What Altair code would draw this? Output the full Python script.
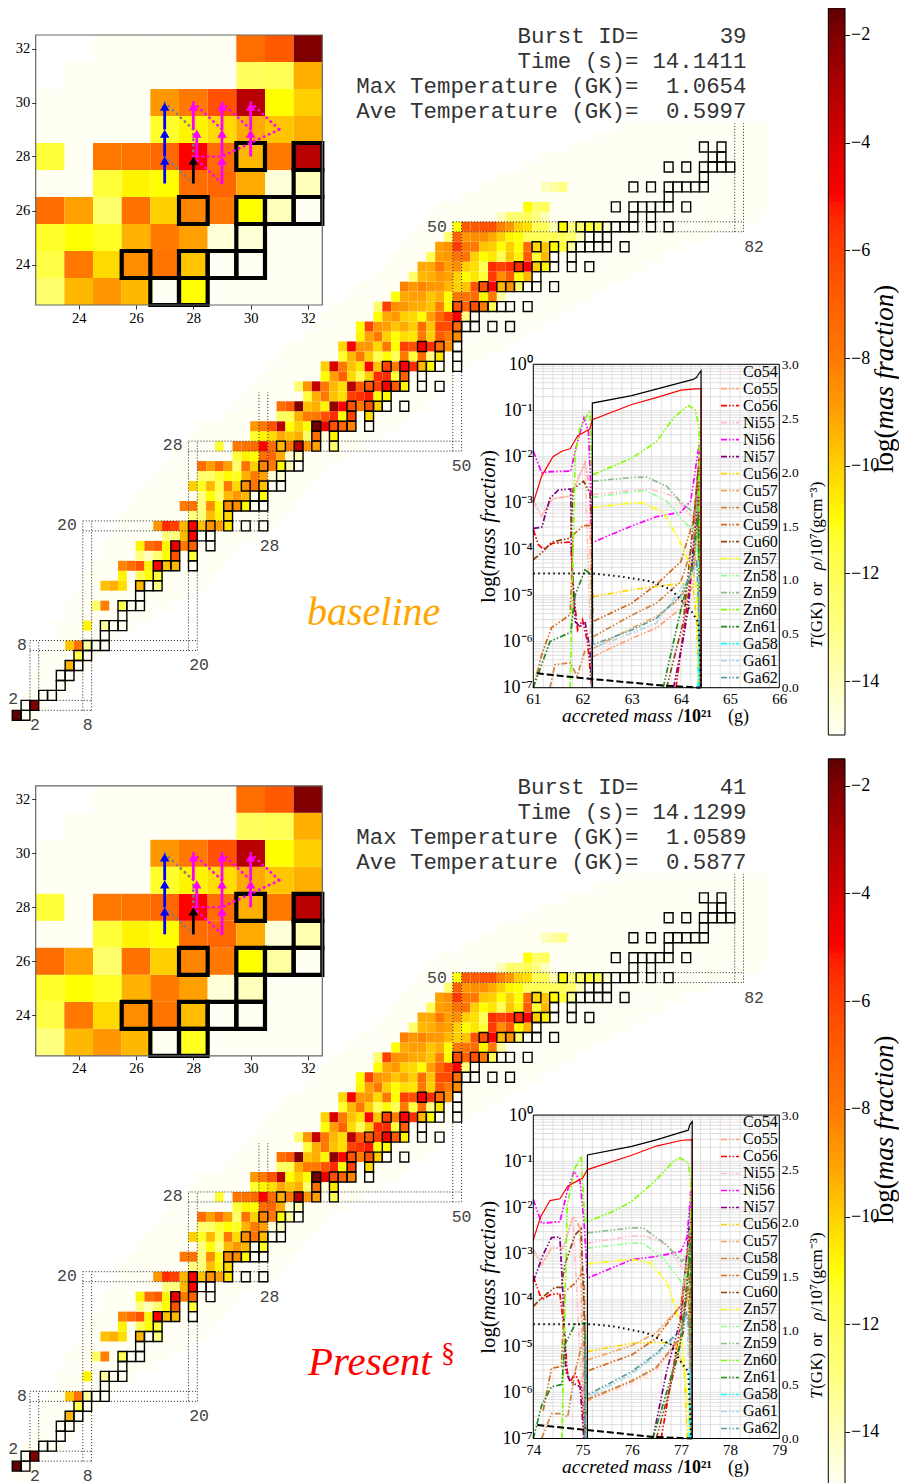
import altair as alt
import pandas as pd

W, H = 891, 1475
DY = 750.8
SERIF = "Liberation Serif"
MONO = "Liberation Mono"

# ---------- colour map (log mass fraction) ----------
CMAP_V = [-15, -13, -11, -10, -9, -8, -7, -6, -5, -4, -3, -2, -1.5]
CMAP_C = ["#fffff4", "#ffff80", "#ffff00", "#ffd000", "#ffa000", "#ff7800", "#ff6000",
          "#ff4000", "#ff0000", "#d80000", "#b00000", "#800000", "#5c0000"]

# ---------- abundance per proton number: Z -> (first N, values) ----------
ROWS = {
 1: (0, [-1.6, -15]), 2: (1, [-15, -2]), 3: (3, [-15, -15]), 4: (5, [-15]), 5: (5, [-15, -15]),
 6: (6, [-9.5, -15]), 7: (7, [-11.8, -15]), 8: (6, [-9.8, -7.8, -13.5, -15, -15]), 9: (10, [-15]),
 10: (8, [-10.8, None, -13.5, -15, -15]), 11: (12, [-15]),
 12: (9, [-12.5, -8.2, None, -12, -15, -15]), 13: (14, [-15]),
 14: (10, [-9.7, -9.3, -10.3, None, -9.5, -15, -13]),
 15: (12, [-10.8, None, -12, -11, -11.5]),
 16: (12, [-8.3, -7.5, -6.5, -10.8, -5, -9.7, -9.5, None, -15]),
 17: (14, [-13, -14, -12.5, -11, -6.5, None, -11.5]),
 18: (14, [-10.8, -7.5, -6.8, -10.8, -4.5, -8, -7, None, -15]),
 19: (17, [-13, -13, -9.5, -5, -15, -15]),
 20: (16, [-8.8, -5.5, -6, -9.5, -5, -9.7, -8.7, -9, -10.5, None, -15, None, -15]),
 21: (20, [-13, -13, -9.6, -10.8, -10.2]),
 22: (19, [-8, -7.8, -13, -8.5, -11, -8.5, -8.5, -11, -15, -15]),
 23: (21, [-13, -11, -12.5, -9.5, -8.8, -9.5, -15, -11]),
 24: (20, [-10, -11.2, -9.5, -11.7, -8, -10.2, -8.5, -7.8, -9.8, -15, -15]),
 25: (21, [-12.5, -12.5, -11.3, -11, -11.2, -9.4, -8, -9, -14.5, -14.5]),
 26: (21, [-7.5, -9, -7.5, -9, -12.5, -7.7, -10, -8.3, -8, -11, -14, -15]),
 27: (25, [-11.5, -10.8, -11, -7.5, -7.2, -9.2, -14.5, -14]),
 28: (23, [-11.5, None, -8, -7.8, -7.3, -5, -7.5, -9.5, -8, -3.2, -8.8, -9, None, -12.5]),
 29: (27, [-11.3, -10.8, -10.2, -9.2, -9.8, -9.3, -12.5, -7.5, -14.5, -10.8]),
 30: (27, [-8.8, -8, -6.5, -3.2, -11, -10, -11, -1.8, -4.5, -6.5, -7.2, -8.3, None, -15]),
 31: (30, [-12.2, -12, -9.3, -8, -8, -6.5, -5.5, -11, -6, None, -10.3]),
 32: (30, [-7.6, -6.8, -2, -9.7, -9.3, -10.8, -2.3, -5, -6.5, -8, -6.5, -10, -15, None, -15]),
 33: (33, [-11.5, -9.3, -8, -9.7, -10.3, -6, -5.6, -5.2, -11, -11]),
 34: (32, [-12.5, -8.8, -3.5, -8, -9.5, -10.3, -3, -6.8, -6.7, -6, -4.8, -6.8, -10.8, None, -15, None, -15]),
 35: (35, [-11, -9, -7, -10.2, -12, -10, -5.5, -5.5, -11.5, -7, None, -15]),
 36: (35, [-10, -4, -8, -9.7, -10.5, -5, -9.8, -6, -8, -5, -5.5, -9.5, -11, -15, None, -15]),
 37: (37, [-11.3, -9.5, -8, -10, -12, -11, -12, -8, -11.5, -7.5, -13, -10.5, None, -15]),
 38: (37, [-10.2, -4.8, -8.8, -8.8, -10.2, -8, -11, -6, -6.5, -5, -5.5, -7.5, -8.5, -15]),
 39: (39, [-10.8, -9, -8, -10, -11, -10.3, -10.5, -8, -10, -6.8, -8, -8.5]),
 40: (39, [-11, -6, -8.8, -9, -9.8, -9.2, -10, -7.5, -9.8, -6.3, -6.3, -7.5, -15, -15, None, -15, None, -15]),
 41: (41, [-11, -9.2, -8.8, -10, -10.2, -11, -9, -7.3, -6, -5, -13, -15]),
 42: (41, [-12.5, -6, -8.6, -8.8, -9.2, -9.3, -9.8, -8.2, -11, -6.5, -7, -6.5, -8, -12, -15, -15, None, -15]),
 43: (43, [-11, -9.2, -9, -9, -9.8, -9.3, -11, -8, -7.8, -7.5, -10.8, -8, -13.5]),
 44: (44, [-8.2, -8.8, -8.3, -8.8, -8.8, -9.5, -10, -9.8, -6.5, -6.5, -5, -9.5, -8.7, -12.5, -15, -15, None, -15]),
 45: (45, [-12.5, -9.5, -9.3, -8.8, -9, -10, -11, -10.5, -11.5, -5.8, -8.5, -6.8, -11, -9.5, -15]),
 46: (46, [-9.2, -9.2, -8, -9, -8.5, -10, -10.3, -12, -5.5, -6, -5.5, -5.5, -4.8, -10, -10.8, -15, None, -15, None, -15]),
 47: (47, [-12, -9, -8.8, -7.8, -7.8, -10, -11, -10.5, -12, -9.8, -10.8, -6.8, -11.5, -9.5, -15, None, -15]),
 48: (48, [-9, -8.6, -5.8, -8, -8, -9.8, -10, -11, -10, -11, -7.5, -10.2, -9.8, -11, -11.5, -13.5, -15, -15, -15, -15, None, -15]),
 49: (49, [-12.5, -7, -8.8, -8.5, -8.5, -9.2, -10, -10.8, -11, -12, -12, -12, -12, -12, -12.5, -14, -15, -15, -15]),
 50: (50, [-11, -6.8, -6.8, -6.5, -6.5, -8.2, -8.8, -10, -10.3, -12, -12, -14, -11, -13, -12.5, -11.5, -12, -14.5, -15, -15, -15, None, -15, None, -15]),
 51: (55, [-14, -12.5, -12.5, -12, -13, -14, None, None, None, None, None, None, None, None, None, -15, None, -15]),
 52: (58, [-11, -12.5, -12, None, None, None, None, None, None, None, -15, None, -15, -15, -15, -15, -15, None, -15]),
 53: (74, [-15]),
 54: (60, [-14, -13.5, -13, None, None, None, None, None, None, None, -15, None, -15, None, -15, -15, -15, -15, -15]),
 55: (78, [-15]), 56: (74, [-15, None, -15, None, -15, -15, -15, -15]),
 57: (79, [-15, -15]), 58: (78, [-15, None, -15]),
}
OVERRIDE_2 = {(30, 26): -11, (31, 26): -13.5, (32, 27): -13.8, (30, 25): -14, (23, 23): -13,
              (28, 24): -9.6, (28, 23): -11.2, (30, 28): -9.3, (29, 29): -10.3, (36, 28): -12,
              (36, 29): -10.5}

# pale band: first and last N for each Z = 0..60
PALE_L = [0, 0, 0, 1, 2, 2, 3, 3, 4, 5, 5, 6, 6, 7, 8, 8, 9, 10, 10, 11, 12, 12, 13, 14, 15, 16, 17, 18, 19, 20, 21,
          24, 25, 26, 27, 28, 29, 30, 31, 33, 34, 35, 36, 38, 39, 41, 42, 43, 44, 45, 46, 47, 48, 51, 53, 55, 58, 60, 63, 66, 69]
PALE_R = [1, 2, 3, 5, 6, 7, 8, 9, 10, 11, 13, 15, 17, 19, 21, 22, 23, 24, 25, 27, 29, 30, 31, 32, 33, 34, 35, 37, 39, 41, 43,
          44, 46, 47, 48, 49, 51, 53, 55, 57, 59, 61, 63, 65, 67, 69, 71, 73, 75, 78, 82, 84, 85, 85, 85, 85, 85, 85, 85, 85, 85]

# stable nuclei: Z -> list of N
STABLE = {1: [0, 1], 2: [1, 2], 3: [3, 4], 4: [5], 5: [5, 6], 6: [6, 7], 7: [7, 8], 8: [8, 9, 10], 9: [10], 10: [10, 11, 12],
 11: [12], 12: [12, 13, 14], 13: [14], 14: [14, 15, 16], 15: [16], 16: [16, 17, 18, 20], 17: [18, 20], 18: [18, 20, 22],
 19: [20, 21, 22], 20: [20, 22, 24, 26, 28], 21: [24], 22: [24, 25, 26, 27, 28], 23: [27, 28], 24: [26, 28, 29, 30], 25: [30],
 26: [28, 30, 31, 32], 27: [32], 28: [30, 32, 34, 36], 29: [34, 36], 30: [34, 36, 37, 38, 40], 31: [38, 40],
 32: [38, 40, 41, 42, 44], 33: [42], 34: [40, 42, 43, 44, 46, 48], 35: [44, 46], 36: [42, 44, 46, 47, 48, 50], 37: [48, 50],
 38: [46, 48, 50], 39: [50], 40: [50, 51, 52, 54, 56], 41: [52], 42: [50, 52, 53, 54, 55, 56, 58],
 44: [53, 55, 56, 57, 58, 59, 61], 45: [59], 46: [57, 59, 60, 61, 63, 65], 47: [61, 63], 48: [59, 61, 63, 64, 65, 66, 67, 69],
 49: [65, 66, 67], 50: [62, 64, 65, 66, 67, 68, 69, 70, 72, 74], 51: [70, 72], 52: [68, 70, 71, 72, 73, 74, 76], 53: [74],
 54: [70, 72, 74, 75, 76, 77, 78], 55: [78], 56: [74, 76, 78, 79, 80, 81], 57: [79, 80], 58: [78, 80]}

# magic-number guides (N0, N1, Z0, Z1)
GUIDES = [(2.5, 8.5, 1.5, 1.5), (2.5, 8.5, 2.5, 2.5), (1.5, 20.5, 7.5, 7.5), (1.5, 20.5, 8.5, 8.5),
          (7.5, 28.5, 19.5, 19.5), (7.5, 28.5, 20.5, 20.5), (19.5, 50.5, 27.5, 27.5), (19.5, 50.5, 28.5, 28.5),
          (49.5, 82.5, 49.5, 49.5), (49.5, 82.5, 50.5, 50.5),
          (1.5, 1.5, 2.5, 8.5), (2.5, 2.5, 2.5, 8.5), (7.5, 7.5, 1.5, 20.5), (8.5, 8.5, 1.5, 20.5),
          (19.5, 19.5, 7.5, 28.5), (20.5, 20.5, 7.5, 28.5), (27.5, 27.5, 19.5, 33.4), (28.5, 28.5, 19.5, 33.4),
          (49.5, 49.5, 27.5, 50.5), (50.5, 50.5, 27.5, 50.5), (81.5, 81.5, 49.5, 60.4), (82.5, 82.5, 49.5, 60.4)]
MAGIC_TXT = ["2", "2", "8", "8", "20", "20", "28", "28", "50", "50", "82"]
MAGIC_N = [-0.4, 2.08, 0.6, 8.06, 5.7, 20.7, 17.7, 28.7, 47.7, 50.5, 83.7]
MAGIC_Z = [2.67, 0, 8.05, 0, 20.05, 6.05, 28.1, 18, 50, 26, 48]

# inset flow arrows: N, Z start, Z end, colour
ARROW_N = [27, 27, 27, 28, 28, 28.12, 29, 29, 29, 30, 30]
ARROW_Z0 = [27, 28, 29, 27, 29, 28, 27, 28, 29, 28, 29]
ARROW_Z1 = [27.85, 28.85, 29.85, 27.85, 29.85, 28.85, 27.85, 28.85, 29.85, 28.85, 29.85]
ARROW_C = ["blue", "blue", "blue", "black", "magenta", "magenta", "magenta", "magenta", "magenta", "magenta", "magenta"]
FLOW_GRAY = [[(27, 30), (28, 29), (28, 28)], [(27, 28), (28, 27)]]
FLOW_MAG = [[(28, 30), (29, 29)], [(29, 30), (30, 29)], [(30, 30), (31, 29)], [(31, 29), (30, 28.5), (29, 28), (28, 28)], [(28, 28), (29, 27)]]

# ---------- profile panels ----------
SERIES = ["Co54", "Co55", "Co56", "Ni55", "Ni56", "Ni57", "Cu56", "Cu57", "Cu58", "Cu59", "Cu60",
          "Zn57", "Zn58", "Zn59", "Zn60", "Zn61", "Ga58", "Ga61", "Ga62"]
SERIES_C = ["#ffe4e1", "#ffa07a", "#ff0000", "#ffc0cb", "#ff00ff", "#800080", "#ffd700", "#f4a460", "#cd853f", "#d2691e",
            "#8b4513", "#ffff00", "#98fb98", "#8fbc8f", "#7fff00", "#228b22", "#00ffff", "#add8e6", "#5f9ea0"]

RED_1 = [(61, -3), (61.17, -2.42), (61.4, -2), (61.6, -1.87), (61.75, -1.83), (61.9, -1.55), (62.05, -1.46), (62.15, -1.4),
         (62.2, -1.2), (63, -.87), (63.5, -.72), (64, -.56), (64.3, -.53), (64.41, -.53), (64.41, -7)]
TEMP_1 = [(62.2, 0), (62.2, 2.64), (63, 2.71), (63.5, 2.77), (64, 2.83), (64.25, 2.86), (64.32, 2.88), (64.36, 2.91), (64.41, 2.94), (64.41, 0)]
AVE_1 = [(61, 1.06), (62.2, 1.06), (62.8, 1.03), (63.4, .985), (63.8, .91), (64.2, .72), (64.35, .61), (64.39, .3), (64.41, 0)]
RHO_1 = [(61.07, .133), (62.2, .08), (63.64, .02), (64.4, 0)]
CURVES_1 = {
 "Co54": [(62.21, -6.25), (63, -5.85), (63.5, -5.64), (64, -5.17), (64.25, -4.7), (64.35, -3.9), (64.41, -7)],
 "Co55": [(61, -2.96), (61.17, -3.29), (61.37, -2.92), (61.76, -2.85), (62.05, -2.13), (62.15, -2.68), (62.19, -7), None,
          (62.21, -6.33), (63, -5.93), (63.5, -5.71), (64, -5.28), (64.25, -4.8), (64.35, -3.25), (64.41, -7)],
 "Co56": [(61, -3.58), (61.1, -3.9), (61.2, -4), (61.4, -3.87), (61.76, -3.85), (61.81, -4.85), (61.9, -5.75), (62, -5.53), (62.1, -6), (62.19, -7), None,
          (63.9, -7), (64.15, -5), (64.3, -3.5), (64.37, -2), (64.41, -7)],
 "Ni55": [(61, -2.96), (61.17, -3.27), (61.4, -2.9), (61.76, -2.85), (62.05, -2.15), (62.19, -7), None,
          (62.21, -2.82), (63, -2.73), (63.37, -2.7), (63.85, -2.85), (64.25, -3.33), (64.35, -3.47), (64.41, -7)],
 "Ni56": [(61, -1.88), (61.17, -2.35), (61.3, -2.33), (61.76, -2.31), (61.85, -1.88), (62.03, -1.16), (62.12, -1.45), (62.17, -2.67), (62.19, -3.87),
          (62.5, -3.72), (63, -3.5), (63.5, -3.3), (64, -3.2), (64.2, -2.96), (64.29, -2.31), (64.37, -1.73), (64.4, -7)],
 "Ni57": [(61, -3.55), (61.17, -3.53), (61.34, -2.9), (61.51, -2.72), (61.76, -2.7), (61.78, -4.1), (61.85, -5.57), (61.95, -5.68), (62.05, -5.57), (62.15, -6.15), (62.19, -7), None,
          (63.85, -7), (64.05, -5.93), (64.15, -5.28), (64.3, -3.4), (64.35, -2.67), (64.4, -7)],
 "Cu56": [(62.21, -5.03), (63, -4.88), (63.5, -4.81), (64, -4.74), (64.25, -4.81), (64.32, -5.57), (64.36, -7)],
 "Cu57": [(62.21, -6.15), (63, -5.71), (63.5, -5.46), (64, -5.06), (64.25, -4.48), (64.35, -3.4), (64.41, -7)],
 "Cu58": [(61.34, -7), (61.44, -6.5), (61.75, -6.46), (61.89, -6.75), (62.05, -6.2), None,
          (62.21, -5.9), (63, -5.43), (63.5, -5.17), (64, -4.7), (64.25, -3.9), (64.35, -2.55), (64.41, -7)],
 "Cu59": [(61, -7), (61.17, -6.29), (61.37, -5.7), (61.75, -5.42), (61.81, -3.69), (62.02, -3.49), (62.19, -3.49), (62.21, -5.57),
          (63, -5.17), (63.5, -4.77), (64, -4.27), (64.25, -3.4), (64.37, -2.1), (64.4, -7)],
 "Cu60": [(61, -4.23), (61.2, -4.05), (61.37, -3.85), (61.76, -3.76), (61.81, -2.7), (62.02, -2.53), (62.15, -2.78), (62.19, -3.5), (62.19, -7), None,
          (63.71, -7), (64.05, -5.57), (64.29, -3.04), (64.35, -2.24), (64.4, -7)],
 "Zn57": [(62.21, -3.1), (63, -3), (63.23, -3), (63.64, -3.2), (63.98, -3.83), (64.18, -4.34), (64.32, -4.84), (64.39, -7)],
 "Zn58": [(62.21, -2.88), (63, -2.76), (63.3, -2.74), (63.71, -2.96), (64.12, -3.47), (64.32, -3.58), (64.41, -7)],
 "Zn59": [(62.21, -2.53), (63, -2.45), (63.3, -2.44), (63.71, -2.64), (64.05, -3.04), (64.32, -3.25), (64.37, -2.31), (64.41, -7)],
 "Zn60": [(61.75, -7), (61.85, -1.95), (61.95, -1.37), (62.15, -1), (62.19, -2.31), (62.21, -2.39), (62.63, -2.2), (63, -2.03), (63.5, -1.68),
          (63.85, -1.16), (64.15, -.89), (64.29, -.98), (64.37, -1.37), (64.39, -7)],
 "Zn61": [(61, -7), (61.17, -6.5), (61.34, -6), (61.76, -5.8), (61.85, -5), (62.05, -4.45), (62.19, -4.56), (62.19, -7), None,
          (63.64, -7), (63.98, -5.4), (64.25, -4.27), (64.35, -3.25), (64.4, -7)],
 "Ga58": [(64.35, -7), (64.37, -5.5), (64.39, -7)],
 "Ga61": [(62.2, -7), (62.2, -5.5), (62.21, -6.15), (63.5, -5.6), (64.25, -4.5), (64.35, -4.3), (64.41, -7)],
 "Ga62": [(62.2, -7), (62.2, -5), (62.21, -6.07), (63, -5.75), (63.5, -5.5), (64, -5), (64.25, -4.42), (64.32, -4.23), (64.37, -5.57), (64.4, -7)],
}
RED_2 = [(74, -2.7), (74.15, -2.2), (74.34, -1.85), (74.54, -1.81), (74.7, -1.54), (74.85, -1.45), (75, -1.37), (75.1, -1.18),
         (76, -.87), (76.5, -.67), (77, -.55), (77.23, -.53), (77.23, -7)]
TEMP_2 = [(75.1, 0), (75.1, 2.63), (76, 2.71), (76.5, 2.77), (77, 2.84), (77.15, 2.86), (77.18, 2.91), (77.23, 2.94), (77.23, 0)]
AVE_2 = [(74, 1.06), (75.2, 1.06), (75.63, 1.04), (76.3, .98), (76.8, .87), (77, .71), (77.15, .62), (77.21, 0)]
RHO_2 = [(74.08, .125), (75.08, .08), (76.43, .015), (77.23, 0)]
CURVES_2 = {
 "Co54": [(75.1, -6.2), (76, -5.83), (76.5, -5.55), (77, -4.9), (77.15, -4.2), (77.2, -3.3), (77.22, -7)],
 "Co55": [(74, -2.91), (74.17, -3.24), (74.37, -2.88), (74.61, -2.88), (74.81, -2.19), (74.95, -2.44), (75.03, -7), None,
          (75.1, -6.17), (76, -5.77), (76.5, -5.48), (77, -4.83), (77.15, -3.75), (77.22, -7)],
 "Co56": [(74, -3.49), (74.17, -4), (74.34, -3.89), (74.54, -3.86), (74.64, -4.76), (74.69, -5.55), (74.75, -5.77), (74.85, -5.59), (74.98, -5.9), (75.05, -7), None,
          (76.6, -7), (77, -4.5), (77.18, -2.4), (77.22, -7)],
 "Ni55": [(74, -2.9), (74.17, -3.22), (74.37, -2.86), (74.61, -2.86), (74.81, -2.2), (75.03, -7), None,
          (75.1, -2.77), (76, -2.62), (76.3, -2.62), (76.71, -2.81), (77.03, -3.31), (77.17, -3), (77.22, -7)],
 "Ni56": [(74, -1.83), (74.17, -2.34), (74.54, -2.31), (74.69, -1.65), (74.83, -1.21), (74.95, -1.43), (75.03, -2.3), (75.1, -3.53), (76, -3.13), (76.5, -3.06),
          (77, -2.95), (77.12, -2.66), (77.17, -2.08), (77.2, -1.65), (77.22, -7)],
 "Ni57": [(74, -3.6), (74.2, -3.02), (74.37, -2.65), (74.54, -2.64), (74.6, -3.82), (74.66, -5.55), (74.75, -5.77), (74.95, -5.88), (75.03, -7), None,
          (76.43, -7), (76.71, -5.55), (76.98, -4.47), (77.12, -3.02), (77.2, -2.01), (77.22, -7)],
 "Cu56": [(75.1, -5.12), (76, -4.94), (76.5, -4.92), (76.9, -4.94), (77.07, -5.55), (77.13, -7)],
 "Cu57": [(75.1, -5.3), (76, -4.99), (76.5, -4.71), (77, -4.13), (77.15, -3.2), (77.22, -7)],
 "Cu58": [(74.17, -7), (74.37, -6.46), (74.57, -6.46), (74.7, -6.53), (74.85, -5.55), (74.98, -5), None,
          (75.1, -6.15), (76, -5.75), (76.5, -5.46), (77, -4.8), (77.15, -3.7), (77.22, -7)],
 "Cu59": [(74.2, -6.4), (74.37, -5.48), (74.57, -5.44), (74.64, -3.82), (74.85, -3.64), (74.98, -3.44), (75.03, -3.46), (75.07, -5.55),
          (76, -5.19), (76.5, -4.83), (77, -4.11), (77.17, -2.8), (77.22, -7)],
 "Cu60": [(74, -4.14), (74.2, -3.93), (74.44, -3.73), (74.57, -3.73), (74.64, -3.24), (74.85, -2.59), (74.97, -2.46), (75.03, -4.1), (75.05, -7), None,
          (76.5, -7), (76.78, -5.9), (77.05, -4.68), (77.17, -3.02), (77.22, -7)],
 "Zn57": [(75.1, -3.22), (76, -3.12), (76.37, -3.2), (76.71, -3.6), (76.98, -4.47), (77.15, -6.3), (77.18, -7)],
 "Zn58": [(75.1, -2.88), (76, -2.77), (76.23, -2.77), (76.64, -3.1), (77.05, -3.67), (77.18, -2.95), (77.22, -7)],
 "Zn59": [(75.1, -2.55), (76, -2.44), (76.23, -2.44), (76.71, -2.81), (77.02, -3.17), (77.15, -2.95), (77.2, -2), (77.22, -7)],
 "Zn60": [(74.58, -7), (74.69, -1.94), (74.85, -1.14), (74.97, -.89), (75.05, -2.3), (75.1, -2.31), (75.63, -2.08), (76, -1.87), (76.5, -1.4),
          (76.85, -1), (76.98, -.93), (77.15, -1.03), (77.2, -1.43), (77.22, -7)],
 "Zn61": [(74, -7), (74.17, -6.28), (74.37, -5.88), (74.58, -5.83), (74.64, -4.97), (74.85, -4.53), (75.05, -4.5), (75.07, -7), None,
          (76.43, -7), (76.71, -6), (76.98, -4.97), (77.15, -3.38), (77.2, -2.65), (77.22, -7)],
 "Ga58": [(77.17, -7), (77.19, -5.5), (77.21, -7)],
 "Ga61": [(75.07, -7), (75.07, -5.5), (75.1, -6.12), (76, -5.6), (76.5, -5.2), (77, -4.7), (77.12, -4.3), (77.22, -7)],
 "Ga62": [(75.05, -7), (75.05, -5), (75.1, -6.06), (76, -5.55), (76.5, -5.16), (77, -4.65), (77.12, -4.25), (77.2, -4.88), (77.22, -7)],
}
XDOM_1, XDOM_2 = [61, 66], [74, 79]
DECADES = [1e-7, 1e-6, 1e-5, 1e-4, 1e-3, 1e-2, 1e-1, 1]
MINOR = [2, 3, 4, 5, 6, 7, 8, 9]
TEMP_TICKS = [0, .5, 1, 1.5, 2, 2.5, 3]
CB_TICKS = [-14, -12, -10, -8, -6, -4, -2]
INSET_TICKS = [24, 26, 28, 30, 32]

INFO_L = ["Burst ID=", "Time (s)=", "Max Temperature (GK)=", "Ave Temperature (GK)="]
INFO_1 = ["39", "14.1411", "1.0654", "0.5997"]
INFO_2 = ["41", "14.1299", "1.0589", "0.5877"]

LOG_EXPR = ("datum.value>0.5?'10⁰':datum.value>0.05?'10⁻¹':datum.value>0.005?'10⁻²':datum.value>0.0005?'10⁻³':"
            "datum.value>0.00005?'10⁻⁴':datum.value>0.000005?'10⁻⁵':datum.value>0.0000005?'10⁻⁶':'10⁻⁷'")

ONE = pd.DataFrame({"a": [0]})


def X(field, dom, rng, axis=None, **kw):
    return alt.X(field, type="quantitative", scale=alt.Scale(domain=dom, range=rng, zero=False, nice=False, **kw), axis=axis)


def Y(field, dom, rng, axis=None, **kw):
    return alt.Y(field, type="quantitative", scale=alt.Scale(domain=dom, range=rng, zero=False, nice=False, **kw), axis=axis)


def label(s, x, y, size, font=SERIF, style="normal", color="black", angle=0, align="left", baseline="alphabetic", weight="normal"):
    df = pd.DataFrame({"t": [s]})
    return alt.Chart(df).mark_text(font=font, fontSize=size, fontStyle=style, color=color, angle=angle,
                                   align=align, baseline=baseline, fontWeight=weight).encode(
        x=alt.value(x - 8), y=alt.value(y - 8), text="t:N")


def make_cells(override):
    vals = {}
    for z, (n0, row) in ROWS.items():
        for i, v in enumerate(row):
            if v is not None:
                vals[(n0 + i, z)] = v
    vals.update(override)
    rows = []
    for z, (a, b) in enumerate(zip(PALE_L, PALE_R)):
        for n in range(a, b + 1):
            if (n, z) not in vals:
                rows.append((n, z, -15))
    rows += [(n, z, v) for (n, z), v in vals.items()]
    df = pd.DataFrame(rows, columns=["N", "Z", "v"])
    df["n0"], df["n1"] = df.N - .5, df.N + .5
    df["z0"], df["z1"] = df.Z - .5, df.Z + .5
    return df


def make_stable():
    rows = [(n, z) for z, ns in STABLE.items() for n in ns]
    df = pd.DataFrame(rows, columns=["N", "Z"])
    df["n0"], df["n1"] = df.N - .5, df.N + .5
    df["z0"], df["z1"] = df.Z - .5, df.Z + .5
    return df


CSCALE = alt.Scale(domain=CMAP_V, range=CMAP_C)


def heat(df, xs, ys):
    return alt.Chart(df).mark_rect(strokeWidth=0).encode(
        x=X("n0", *xs), x2="n1", y=Y("z0", *ys), y2="z1",
        color=alt.Color("v:Q", scale=CSCALE, legend=None))


def boxes(df, xs, ys, width):
    return alt.Chart(df).mark_rect(fill="white", fillOpacity=0, stroke="black", strokeWidth=width).encode(
        x=X("n0", *xs), x2="n1", y=Y("z0", *ys), y2="z1")


def curve_frame(curves):
    rows = []
    for name, pts in curves.items():
        seg = 0
        for p in pts:
            if p is None:
                seg += 1
                continue
            rows.append((name, f"{name}{seg}", len(rows), p[0], 10 ** p[1]))
    return pd.DataFrame(rows, columns=["series", "key", "i", "x", "y"])


def simple_line(pts, xs, ys, color, width, dash=None, axis=None, log=False):
    df = pd.DataFrame(pts, columns=["x", "y"])
    df["i"] = range(len(df))
    if log:
        df["y"] = 10 ** df["y"]
    kw = dict(color=color, strokeWidth=width)
    if dash:
        kw["strokeDash"] = dash
    return alt.Chart(df).mark_line(**kw).encode(
        x=X("x", *xs), y=alt.Y("y", type="quantitative", scale=ys, axis=axis), order="i:Q")


def panel(dy, override, info, curves, red, temp, ave, rho, xdom):
    L = []
    main_x = ([0, 100], [8.7, 889.7])
    main_y = ([0, 60], [717.3 + dy, 119.1 + dy])
    ins_x = ([22.5, 32.5], [27.7, 314.3])
    ins_y = ([22.5, 32.5], [297 + dy, 27 + dy])

    cells = make_cells(override)
    stable = make_stable()
    L.append(heat(cells, main_x, main_y))

    g = pd.DataFrame(GUIDES, columns=["a", "b", "c", "d"])
    L.append(alt.Chart(g).mark_rule(color="#222222", strokeWidth=1, strokeDash=[1, 2]).encode(
        x=X("a", *main_x), x2="b", y=Y("c", *main_y), y2="d"))
    L.append(boxes(stable, main_x, main_y, 1.4))
    mg = pd.DataFrame({"t": MAGIC_TXT, "n": MAGIC_N, "z": MAGIC_Z})
    L.append(alt.Chart(mg).mark_text(font=MONO, fontSize=16.5, color="#444444").encode(
        x=X("n", *main_x), y=Y("z", *main_y), text="t:N"))

    # inset
    sel = (cells.N >= 23) & (cells.N <= 32) & (cells.Z >= 23) & (cells.Z <= 32)
    L.append(heat(cells[sel], ins_x, ins_y))
    sel2 = (stable.N >= 23) & (stable.N <= 32) & (stable.Z >= 23) & (stable.Z <= 32)
    L.append(boxes(stable[sel2], ins_x, ins_y, 4.2))
    ax_i_x = alt.Axis(orient="bottom", offset=297 + dy - H, values=INSET_TICKS, grid=False, domain=False, tickColor="#333333", tickSize=4,
                      labelFont=SERIF, labelFontSize=14.5, labelColor="black", labelPadding=2, title=None, labelFlush=False, labelOverlap=False, zindex=2)
    ax_i_y = alt.Axis(orient="left", offset=-27.7, values=INSET_TICKS, grid=False, domain=False, tickColor="#333333", tickSize=4,
                      labelFont=SERIF, labelFontSize=14.5, labelColor="black", labelPadding=2, title=None, labelFlush=False, labelOverlap=False, zindex=2)
    frame = pd.DataFrame({"x0": [22.5], "x1": [32.5], "y0": [22.5], "y1": [32.5]})
    L.append(alt.Chart(frame).mark_rect(fill="white", fillOpacity=0, stroke="#666666", strokeWidth=1.2).encode(
        x=X("x0", *ins_x, axis=ax_i_x), x2="x1", y=Y("y0", *ins_y, axis=ax_i_y), y2="y1"))
    for flows, col in ((FLOW_GRAY, "gray"), (FLOW_MAG, "magenta")):
        rows = [(k, j, p[0], p[1]) for k, seg in enumerate(flows) for j, p in enumerate(seg)]
        fl = pd.DataFrame(rows, columns=["k", "j", "n", "z"])
        L.append(alt.Chart(fl).mark_line(color=col, strokeWidth=2.6, strokeDash=[0.5, 5], strokeCap="round").encode(
            x=X("n", *ins_x), y=Y("z", *ins_y), detail="k:N", order="j:Q"))
    ar = pd.DataFrame({"n": ARROW_N, "a": ARROW_Z0, "b": ARROW_Z1, "c": ARROW_C})
    ccol = alt.Color("c:N", scale=None, legend=None)
    L.append(alt.Chart(ar).mark_rule(strokeWidth=2.8).encode(
        x=X("n", *ins_x), y=Y("a", *ins_y), y2="b", color=ccol))
    L.append(alt.Chart(ar).mark_point(shape="triangle-up", filled=True, size=90, opacity=1).encode(
        x=X("n", *ins_x), y=Y("b", *ins_y), color=ccol))

    # info text
    for k, (a, b) in enumerate(zip(INFO_L, info)):
        L.append(label(a, 638.5, 43 + 25 * k + dy, 22.4, font=MONO, color="#333333", align="right"))
        L.append(label(b, 746.5, 43 + 25 * k + dy, 22.4, font=MONO, color="#333333", align="right"))

    # profile panel
    px = (xdom, [525.3, 771.3])
    py_rng = [679.7 + dy, 356.3 + dy]
    y_log = alt.Scale(type="log", domain=[1e-7, 1], range=py_rng, nice=False)
    y_lin = alt.Scale(domain=[0, 3], range=py_rng, zero=False, nice=False)

    gx = pd.DataFrame({"x": [xdom[0] + i * .2 for i in range(1, 25)]})
    L.append(alt.Chart(gx).mark_rule(color="#dddddd", strokeWidth=.9).encode(
        x=X("x", *px), y=alt.value(py_rng[1]), y2=alt.value(py_rng[0])))
    gy = pd.DataFrame({"y": [d * m for d in DECADES[:-1] for m in MINOR] + DECADES})
    L.append(alt.Chart(gy).mark_rule(color="#dddddd", strokeWidth=.9).encode(
        y=alt.Y("y", type="quantitative", scale=y_log, axis=None), x=alt.value(px[1][0]), x2=alt.value(px[1][1])))

    cf = curve_frame(curves)
    L.append(alt.Chart(cf).mark_line(strokeWidth=1.7, strokeDash=[6, 2, 1.5, 2, 1.5, 2]).encode(
        x=X("x", *px), y=alt.Y("y", type="quantitative", scale=y_log, axis=None),
        color=alt.Color("series:N", title=None, scale=alt.Scale(domain=SERIES, range=SERIES_C),
                        legend=alt.Legend(orient="none", legendX=712, legendY=355.3 + dy, padding=0, symbolType="stroke",
                                          symbolSize=324, symbolStrokeWidth=1.7, symbolDash=[6, 2, 1.5, 2, 1.5, 2],
                                          labelFont=SERIF, labelFontSize=16, labelColor="black", labelOffset=3,
                                          rowPadding=0, clipHeight=16.76, labelLimit=60)),
        detail="key:N", order="i:Q"))
    L.append(simple_line(red, px, y_log, "#ff0000", 1.2, log=True))
    ax_r = alt.Axis(orient="right", offset=771.3 - W, values=TEMP_TICKS, format=".1f", grid=False, domain=False, tickSize=0,
                    labelFont=SERIF, labelFontSize=13.5, labelColor="black", labelPadding=2, title=None, labelFlush=False, labelOverlap=False, zindex=2)
    L.append(simple_line(temp, px, y_lin, "black", 1.2, axis=ax_r))
    L.append(simple_line(ave, px, y_lin, "black", 2, dash=[1.5, 3.5]))
    L.append(simple_line(rho, px, y_lin, "black", 2, dash=[7, 3]))

    ax_x = alt.Axis(orient="bottom", offset=679.7 + dy - H, values=list(range(xdom[0], xdom[1] + 1)), format="d", grid=False, domain=False, tickSize=0,
                    labelFont=SERIF, labelFontSize=15, labelColor="black", labelPadding=4, title=None, labelFlush=False, labelOverlap=False, zindex=2)
    ax_y = alt.Axis(orient="left", offset=-525.3, values=DECADES, labelExpr=LOG_EXPR, grid=False, domain=False, tickSize=0,
                    labelFont=SERIF, labelFontSize=18, labelColor="black", labelPadding=1, title=None, labelFlush=False, labelOverlap=False, zindex=2)
    fr = pd.DataFrame({"x0": [xdom[0]], "x1": [xdom[1]], "y0": [1e-7], "y1": [1.0]})
    L.append(alt.Chart(fr).mark_rect(fill="white", fillOpacity=0, stroke="black", strokeWidth=1).encode(
        x=X("x0", *px, axis=ax_x), x2="x1",
        y=alt.Y("y0", type="quantitative", scale=y_log, axis=ax_y), y2="y1"))

    # profile titles
    L.append(label("log(", 495, 603 + dy, 20.8, angle=270))
    L.append(label("mass fraction", 495, 569.5 + dy, 20.8, style="italic", angle=270))
    L.append(label(")", 495, 457 + dy, 20.8, angle=270))
    L.append(label("T", 822, 648 + dy, 17, style="italic", angle=270))
    L.append(label("(GK)", 822, 638 + dy, 17, angle=270))
    L.append(label("or", 822, 596 + dy, 17, angle=270))
    L.append(label("ρ", 822, 570 + dy, 17, style="italic", angle=270))
    L.append(label("/10⁷(gcm⁻³)", 822, 561 + dy, 17, angle=270))
    L.append(label("accreted mass", 562, 722 + dy, 19.5, style="italic"))
    L.append(label("/10²¹", 678, 722 + dy, 18, weight="bold"))
    L.append(label("(g)", 728, 722 + dy, 18))

    # colour bar
    levels = [-15 + i * .1 for i in range(135)]
    cb = pd.DataFrame({"v": [l + .05 for l in levels], "a": levels, "b": [min(l + .14, -1.5) for l in levels]})
    cb_y = ([-15, -1.5], [727 + dy, 0 + dy])
    ax_c = alt.Axis(orient="right", offset=837 - W, values=CB_TICKS, grid=False, domain=False, tickSize=4.5, tickColor="black",
                    labelFont=SERIF, labelFontSize=18, labelColor="black", labelPadding=1, title=None, labelFlush=False, labelOverlap=False, zindex=2)
    L.append(alt.Chart(cb).mark_rect(strokeWidth=0).encode(
        x=alt.value(820.3), x2=alt.value(837), y=Y("a", *cb_y, axis=ax_c), y2="b",
        color=alt.Color("v:Q", scale=CSCALE, legend=None)))
    L.append(alt.Chart(ONE).mark_rect(fill="white", fillOpacity=0, stroke="black", strokeWidth=1).encode(
        x=alt.value(820.3), x2=alt.value(837), y=alt.value(0 + dy), y2=alt.value(727 + dy)))
    L.append(label("log(", 893, 473 + dy, 27, angle=270))
    L.append(label("mas fraction", 893, 429.5 + dy, 27, style="italic", angle=270))
    L.append(label(")", 893, 293.7 + dy, 27, angle=270))
    return L


layers = panel(0, {}, INFO_1, CURVES_1, RED_1, TEMP_1, AVE_1, RHO_1, XDOM_1)
layers += panel(DY, OVERRIDE_2, INFO_2, CURVES_2, RED_2, TEMP_2, AVE_2, RHO_2, XDOM_2)
layers.append(label("baseline", 307, 625, 40, style="italic", color="#ffa500"))
layers.append(label("Present", 308, 1375, 41, style="italic", color="#ff0000"))
layers.append(label("§", 441, 1362, 28, color="#ff0000"))

chart = alt.layer(*layers).resolve_scale(x="independent", y="independent", color="independent").properties(
    width=W, height=H, padding=0, autosize=alt.AutoSizeParams(type="none"), background="white"
).configure_view(stroke=None)

chart.save("out.html", embed_options={"renderer": "svg", "actions": False})
